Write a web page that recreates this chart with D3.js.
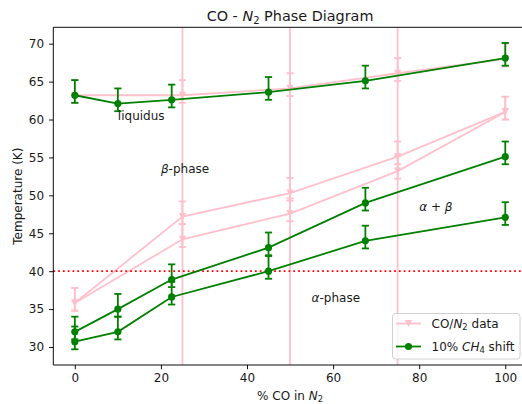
<!DOCTYPE html>
<html lang="en">
<head>
  <meta charset="UTF-8">
  <script src="https://d3js.org/d3.v7.min.js"></script>
  <title>CO - N2 Phase Diagram</title>
  <style>
    body { margin: 0; background: #fff; }
    svg text { font-family: "DejaVu Sans", sans-serif; fill: #1a1a1a; }
    .tick line { stroke: #000; stroke-width: 0.96; }
    .tick text { font-size: 12px; }
  </style>
</head>
<body>
  <svg></svg>
  <script>
    // CO/N2 measured points
    const pinkX = [0, 25, 50, 75, 100]
    const pinkLiquidus = [63.2, 63.2, 64.1, 66.1, 68]
    const pinkUpper = [35.8, 47.2, 50.3, 55.1, 61]
    const pinkLower = [35.8, 44.2, 47.6, 53.2, 61]
    const phaseBounds = [25, 50, 75]

    // 10% CH4 shifted points
    const shiftX = [0, 10, 22.5, 45, 67.5, 100]
    const shiftLiquidus = [63.2, 62.1, 62.6, 63.6, 65.1, 68.1]
    const shiftUpper = [32, 35, 38.9, 43.1, 49, 55.1]
    const shiftLower = [30.7, 32, 36.6, 40, 44, 47.1]

    const errDown = 1
    const errUp = 2
    const alphaLine = 40

    const xTicks = [0, 20, 40, 60, 80, 100]
    const yTicks = [30, 35, 40, 45, 50, 55, 60, 65, 70]

    const labels = [
      { x: 10, y: 60, parts: [['liquidus']] },
      { x: 20, y: 53, parts: [['β', 'i'], ['-phase']] },
      { x: 80, y: 48, parts: [['α + β', 'i']] },
      { x: 55, y: 36, parts: [['α', 'i'], ['-phase']] }
    ]

    const WIDTH = 522
    const HEIGHT = 404
    const mLeft = 53.3, mRight = 526.8, mTop = 27.3, mBottom = 365
    const LW = 1.8

    const svg = d3.select('svg')
      .attr('width', WIDTH)
      .attr('height', HEIGHT)

    const x = d3.scaleLinear().domain([-5, 105]).range([mLeft, mRight])
    const y = d3.scaleLinear().domain([27.63, 72.16]).range([mBottom, mTop])

    const PINK = '#ffc0cb'
    const GREEN = '#008000'

    const plot = svg.append('g')

    function series (xs, ys, color, marker) {
      const pts = xs.map((d, i) => ({ x: d, y: ys[i] }))
      const g = plot.append('g')
      g.selectAll('line.err').data(pts).enter().append('line')
        .attr('x1', d => x(d.x)).attr('x2', d => x(d.x))
        .attr('y1', d => y(d.y - errDown)).attr('y2', d => y(d.y + errUp))
        .attr('stroke', color).attr('stroke-width', LW)
      ;[-errDown, errUp].forEach(off => {
        g.selectAll(null).data(pts).enter().append('line')
          .attr('x1', d => x(d.x) - 3.6).attr('x2', d => x(d.x) + 3.6)
          .attr('y1', d => y(d.y + off)).attr('y2', d => y(d.y + off))
          .attr('stroke', color).attr('stroke-width', LW)
      })
      g.append('path')
        .datum(pts)
        .attr('fill', 'none')
        .attr('stroke', color)
        .attr('stroke-width', LW)
        .attr('d', d3.line().x(d => x(d.x)).y(d => y(d.y)))
      drawMarkers(g, pts.map(d => [x(d.x), y(d.y)]), color, marker)
    }

    function drawMarkers (g, coords, color, marker) {
      if (marker === 'v') {
        g.selectAll(null).data(coords).enter().append('path')
          .attr('d', d => `M${d[0] - 3.6},${d[1] - 3.6}L${d[0] + 3.6},${d[1] - 3.6}L${d[0]},${d[1] + 3.6}Z`)
          .attr('fill', color)
      } else {
        g.selectAll(null).data(coords).enter().append('circle')
          .attr('cx', d => d[0]).attr('cy', d => d[1]).attr('r', 3.6)
          .attr('fill', color)
      }
    }

    series(pinkX, pinkLiquidus, PINK, 'v')
    series(pinkX, pinkUpper, PINK, 'v')
    series(pinkX, pinkLower, PINK, 'v')

    plot.selectAll('line.bound').data(phaseBounds).enter().append('line')
      .attr('x1', d => x(d)).attr('x2', d => x(d))
      .attr('y1', mTop).attr('y2', mBottom)
      .attr('stroke', PINK).attr('stroke-width', LW)

    plot.append('line')
      .attr('x1', mLeft).attr('x2', mRight)
      .attr('y1', y(alphaLine)).attr('y2', y(alphaLine))
      .attr('stroke', '#ff0000').attr('stroke-width', LW)
      .attr('stroke-dasharray', '1.8,3')

    series(shiftX, shiftLiquidus, GREEN, 'o')
    series(shiftX, shiftUpper, GREEN, 'o')
    series(shiftX, shiftLower, GREEN, 'o')

    // annotations
    labels.forEach(l => {
      const t = svg.append('text')
        .attr('x', x(l.x)).attr('y', y(l.y))
        .attr('font-size', 12)
      l.parts.forEach(p => {
        t.append('tspan').text(p[0]).attr('font-style', p[1] === 'i' ? 'italic' : null)
      })
    })

    // axes
    svg.append('g')
      .attr('transform', `translate(0,${mBottom})`)
      .call(d3.axisBottom(x).tickValues(xTicks).tickSize(4.2).tickPadding(4.2))
      .call(g => g.select('.domain').remove())

    svg.append('g')
      .attr('transform', `translate(${mLeft},0)`)
      .call(d3.axisLeft(y).tickValues(yTicks).tickSize(4.2).tickPadding(5))
      .call(g => g.select('.domain').remove())

    svg.selectAll('.tick text').attr('fill', '#1a1a1a').attr('font-family', '"DejaVu Sans", sans-serif')

    const spine = svg.append('g').attr('stroke', '#000').attr('stroke-width', 0.96)
    spine.append('line').attr('x1', mLeft).attr('x2', mLeft).attr('y1', mTop).attr('y2', mBottom)
    spine.append('line').attr('x1', mLeft).attr('x2', mRight).attr('y1', mBottom).attr('y2', mBottom)
    spine.append('line').attr('x1', mLeft).attr('x2', mRight).attr('y1', mTop).attr('y2', mTop)
    spine.append('line').attr('x1', mRight).attr('x2', mRight).attr('y1', mTop).attr('y2', mBottom)

    // title and axis labels
    const title = svg.append('text')
      .attr('x', (mLeft + mRight) / 2).attr('y', 21)
      .attr('text-anchor', 'middle').attr('font-size', 14.4)
    title.append('tspan').text('CO - ')
    title.append('tspan').text('N').attr('font-style', 'italic')
    title.append('tspan').text('2').attr('font-size', 10).attr('dy', 3)
    title.append('tspan').text(' Phase Diagram').attr('dy', -3)

    const xl = svg.append('text')
      .attr('x', (mLeft + mRight) / 2).attr('y', 400)
      .attr('text-anchor', 'middle').attr('font-size', 12)
    xl.append('tspan').text('% CO in ')
    xl.append('tspan').text('N').attr('font-style', 'italic')
    xl.append('tspan').text('2').attr('font-size', 8.4).attr('dy', 2.4)

    svg.append('text')
      .attr('transform', `translate(22,${(mTop + mBottom) / 2}) rotate(-90)`)
      .attr('text-anchor', 'middle').attr('font-size', 12)
      .text('Temperature (K)')

    // legend
    const lg = svg.append('g')
    lg.append('rect')
      .attr('x', 392.5).attr('y', 313.5).attr('width', 127.5).attr('height', 45.5)
      .attr('rx', 3).attr('fill', '#fff').attr('fill-opacity', 0.8)
      .attr('stroke', '#d0d0d0').attr('stroke-width', 1)

    const legendItems = [
      { color: PINK, marker: 'v', y: 323.5, parts: [['CO/'], ['N', 'i'], ['2', 's'], [' data']] },
      { color: GREEN, marker: 'o', y: 346.5, parts: [['10% '], ['CH', 'i'], ['4', 's'], [' shift']] }
    ]
    legendItems.forEach(it => {
      lg.append('line')
        .attr('x1', 396).attr('x2', 421).attr('y1', it.y).attr('y2', it.y)
        .attr('stroke', it.color).attr('stroke-width', LW)
      drawMarkers(lg, [[408.5, it.y]], it.color, it.marker)
      const t = lg.append('text').attr('x', 431.5).attr('y', it.y + 4.3).attr('font-size', 12)
      let shifted = false
      it.parts.forEach(p => {
        const s = t.append('tspan').text(p[0])
        if (p[1] === 'i') s.attr('font-style', 'italic')
        if (p[1] === 's') { s.attr('font-size', 8.4).attr('dy', 2.4); shifted = true }
        else if (shifted) { s.attr('dy', -2.4); shifted = false }
      })
    })
  </script>
</body>
</html>
